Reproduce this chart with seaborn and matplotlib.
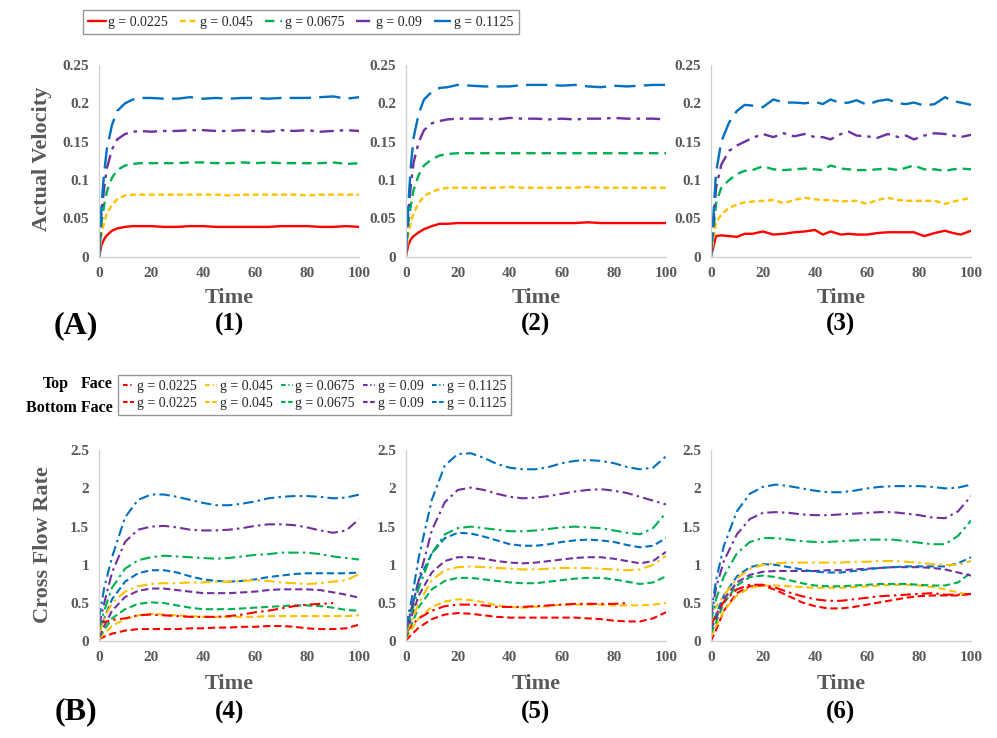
import matplotlib
matplotlib.use("Agg")
import matplotlib.pyplot as plt
import seaborn as sns
import numpy as np
from matplotlib.lines import Line2D
from matplotlib.ticker import MultipleLocator, AutoMinorLocator, FuncFormatter

# ---- data ----
G_LABELS = ['g = 0.0225', 'g = 0.045', 'g = 0.0675', 'g = 0.09', 'g = 0.1125']
COLORS = ['#ff0000', '#ffc000', '#00b050', '#7030a0', '#0070c0']

# (A) actual velocity, panels 1 and 2 share this time grid
T_VEL = [0, 1, 2, 3, 5, 7, 10, 13, 16, 20, 25, 30, 35, 40, 45, 50, 55, 60, 65, 70, 75, 80, 85, 90, 95, 100]

VEL_1 = [
    [0, 0.016, 0.023, 0.028, 0.034, 0.037, 0.039, 0.040, 0.040, 0.040, 0.039, 0.039, 0.040, 0.040, 0.039, 0.039, 0.039, 0.039, 0.039, 0.040, 0.040, 0.040, 0.039, 0.039, 0.040, 0.039],
    [0, 0.030, 0.045, 0.056, 0.068, 0.075, 0.080, 0.081, 0.081, 0.081, 0.081, 0.081, 0.081, 0.081, 0.081, 0.080, 0.081, 0.081, 0.081, 0.081, 0.081, 0.080, 0.081, 0.081, 0.081, 0.081],
    [0, 0.045, 0.068, 0.085, 0.103, 0.113, 0.119, 0.121, 0.122, 0.122, 0.122, 0.122, 0.123, 0.123, 0.122, 0.122, 0.123, 0.122, 0.123, 0.122, 0.122, 0.122, 0.122, 0.123, 0.121, 0.122],
    [0, 0.060, 0.090, 0.115, 0.140, 0.153, 0.160, 0.163, 0.164, 0.163, 0.164, 0.164, 0.165, 0.165, 0.164, 0.164, 0.165, 0.164, 0.163, 0.165, 0.164, 0.165, 0.163, 0.164, 0.165, 0.164],
    [0, 0.070, 0.110, 0.140, 0.172, 0.190, 0.200, 0.205, 0.207, 0.207, 0.206, 0.206, 0.208, 0.206, 0.207, 0.206, 0.207, 0.207, 0.206, 0.207, 0.207, 0.207, 0.208, 0.209, 0.206, 0.208],
]

VEL_2 = [
    [0, 0.016, 0.023, 0.027, 0.032, 0.036, 0.040, 0.043, 0.043, 0.044, 0.044, 0.044, 0.044, 0.044, 0.044, 0.044, 0.044, 0.044, 0.044, 0.045, 0.044, 0.044, 0.044, 0.044, 0.044, 0.044],
    [0, 0.030, 0.046, 0.057, 0.070, 0.079, 0.085, 0.088, 0.090, 0.090, 0.090, 0.090, 0.090, 0.091, 0.090, 0.090, 0.090, 0.090, 0.090, 0.091, 0.090, 0.090, 0.090, 0.090, 0.090, 0.090],
    [0, 0.045, 0.068, 0.087, 0.107, 0.119, 0.127, 0.132, 0.134, 0.135, 0.135, 0.135, 0.135, 0.135, 0.135, 0.135, 0.135, 0.135, 0.135, 0.135, 0.135, 0.135, 0.135, 0.135, 0.135, 0.135],
    [0, 0.060, 0.095, 0.123, 0.150, 0.165, 0.174, 0.177, 0.179, 0.180, 0.180, 0.180, 0.179, 0.181, 0.180, 0.180, 0.179, 0.180, 0.179, 0.180, 0.180, 0.181, 0.180, 0.180, 0.180, 0.179],
    [0, 0.070, 0.120, 0.155, 0.187, 0.205, 0.215, 0.220, 0.221, 0.224, 0.223, 0.222, 0.222, 0.222, 0.224, 0.224, 0.224, 0.223, 0.224, 0.222, 0.221, 0.223, 0.222, 0.223, 0.224, 0.224],
]

# panel 3 is noisier, so it gets a denser grid
T_VEL_3 = [0, 2, 4, 7, 10, 13, 16, 20, 24, 28, 32, 36, 40, 43, 46, 50, 53, 56, 60, 64, 68, 72, 75, 78, 82, 86, 90, 93, 96, 100]

VEL_3 = [
    [0, 0.027, 0.028, 0.027, 0.026, 0.030, 0.030, 0.033, 0.029, 0.030, 0.032, 0.033, 0.035, 0.029, 0.033, 0.029, 0.030, 0.029, 0.029, 0.031, 0.032, 0.032, 0.032, 0.032, 0.027, 0.031, 0.034, 0.031, 0.029, 0.034],
    [0, 0.045, 0.055, 0.064, 0.068, 0.071, 0.072, 0.073, 0.074, 0.070, 0.074, 0.077, 0.075, 0.074, 0.074, 0.072, 0.073, 0.073, 0.069, 0.074, 0.077, 0.074, 0.073, 0.073, 0.073, 0.073, 0.069, 0.072, 0.074, 0.077],
    [0, 0.070, 0.090, 0.100, 0.108, 0.112, 0.113, 0.118, 0.114, 0.113, 0.114, 0.115, 0.114, 0.113, 0.119, 0.115, 0.114, 0.113, 0.113, 0.114, 0.115, 0.113, 0.116, 0.119, 0.114, 0.114, 0.112, 0.114, 0.115, 0.114],
    [0, 0.090, 0.120, 0.138, 0.145, 0.150, 0.155, 0.160, 0.156, 0.161, 0.157, 0.160, 0.156, 0.156, 0.153, 0.160, 0.163, 0.158, 0.157, 0.155, 0.160, 0.156, 0.158, 0.153, 0.158, 0.161, 0.160, 0.158, 0.156, 0.159],
    [0, 0.110, 0.150, 0.175, 0.190, 0.198, 0.197, 0.195, 0.205, 0.201, 0.201, 0.200, 0.202, 0.199, 0.205, 0.200, 0.201, 0.204, 0.198, 0.203, 0.205, 0.200, 0.199, 0.201, 0.197, 0.199, 0.208, 0.203, 0.201, 0.198],
]

# (B) cross flow rate, top face and bottom face
T_FLOW = [0, 2, 5, 10, 15, 20, 25, 30, 35, 40, 45, 50, 55, 60, 65, 70, 75, 80, 85, 90, 95, 100]
nan = np.nan

TOP_4 = [
    [0.25, 0.25, 0.28, 0.30, 0.34, 0.35, 0.34, 0.33, 0.32, 0.32, 0.32, 0.33, 0.35, 0.38, 0.40, 0.43, 0.46, 0.48, 0.49, 0.50, nan, nan],
    [0.10, 0.30, 0.50, 0.65, 0.72, 0.75, 0.76, 0.76, 0.77, 0.77, 0.78, 0.78, 0.79, 0.80, 0.79, 0.77, 0.76, 0.75, 0.76, 0.78, 0.80, 0.88],
    [0.15, 0.40, 0.70, 0.95, 1.06, 1.10, 1.12, 1.11, 1.10, 1.09, 1.08, 1.09, 1.11, 1.13, 1.14, 1.16, 1.16, 1.16, 1.14, 1.11, 1.09, 1.07],
    [0.20, 0.50, 0.90, 1.30, 1.46, 1.50, 1.51, 1.49, 1.46, 1.45, 1.45, 1.46, 1.48, 1.51, 1.53, 1.53, 1.52, 1.49, 1.45, 1.42, 1.45, 1.60],
    [0.30, 0.70, 1.10, 1.62, 1.85, 1.92, 1.92, 1.89, 1.85, 1.81, 1.78, 1.78, 1.80, 1.83, 1.87, 1.89, 1.90, 1.90, 1.89, 1.87, 1.88, 1.92],
]
BOT_4 = [
    [0.03, 0.06, 0.10, 0.14, 0.16, 0.16, 0.16, 0.16, 0.17, 0.17, 0.18, 0.18, 0.19, 0.19, 0.20, 0.20, 0.19, 0.17, 0.16, 0.16, 0.17, 0.22],
    [0.03, 0.10, 0.20, 0.29, 0.34, 0.36, 0.35, 0.34, 0.33, 0.32, 0.32, 0.32, 0.32, 0.32, 0.33, 0.33, 0.33, 0.33, 0.33, 0.33, 0.33, 0.34],
    [0.05, 0.15, 0.30, 0.42, 0.49, 0.51, 0.50, 0.47, 0.44, 0.42, 0.42, 0.42, 0.43, 0.44, 0.45, 0.46, 0.47, 0.47, 0.46, 0.44, 0.41, 0.40],
    [0.05, 0.20, 0.40, 0.58, 0.66, 0.69, 0.69, 0.67, 0.65, 0.63, 0.63, 0.63, 0.64, 0.65, 0.67, 0.68, 0.68, 0.68, 0.67, 0.64, 0.61, 0.57],
    [0.10, 0.30, 0.55, 0.78, 0.89, 0.93, 0.93, 0.90, 0.85, 0.81, 0.79, 0.78, 0.79, 0.81, 0.84, 0.86, 0.88, 0.89, 0.89, 0.89, 0.89, 0.90],
]

TOP_5 = [
    [0.10, 0.20, 0.30, 0.40, 0.46, 0.48, 0.48, 0.47, 0.45, 0.45, 0.45, 0.46, 0.47, 0.48, 0.49, 0.49, 0.49, 0.49, 0.50, nan, nan, nan],
    [0.10, 0.25, 0.50, 0.80, 0.93, 0.97, 0.98, 0.97, 0.96, 0.95, 0.94, 0.94, 0.95, 0.96, 0.96, 0.96, 0.95, 0.94, 0.93, 0.94, 1.00, 1.12],
    [0.10, 0.35, 0.70, 1.15, 1.40, 1.48, 1.50, 1.48, 1.46, 1.44, 1.44, 1.45, 1.47, 1.49, 1.50, 1.49, 1.48, 1.45, 1.42, 1.40, 1.48, 1.68],
    [0.15, 0.40, 0.80, 1.45, 1.82, 1.98, 2.01, 1.98, 1.93, 1.89, 1.87, 1.88, 1.90, 1.93, 1.96, 1.98, 1.99, 1.97, 1.94, 1.89, 1.84, 1.79],
    [0.20, 0.50, 1.10, 1.85, 2.30, 2.45, 2.46, 2.40, 2.32, 2.27, 2.25, 2.25, 2.28, 2.33, 2.36, 2.37, 2.36, 2.33, 2.28, 2.25, 2.27, 2.42],
]
BOT_5 = [
    [0.01, 0.08, 0.18, 0.29, 0.35, 0.37, 0.36, 0.34, 0.32, 0.31, 0.31, 0.31, 0.31, 0.31, 0.31, 0.30, 0.29, 0.27, 0.26, 0.26, 0.30, 0.38],
    [0.03, 0.15, 0.30, 0.45, 0.52, 0.55, 0.54, 0.51, 0.47, 0.45, 0.44, 0.45, 0.46, 0.48, 0.48, 0.48, 0.48, 0.47, 0.47, 0.47, 0.48, 0.50],
    [0.03, 0.20, 0.45, 0.68, 0.79, 0.83, 0.83, 0.81, 0.79, 0.77, 0.76, 0.76, 0.78, 0.80, 0.82, 0.83, 0.83, 0.81, 0.78, 0.75, 0.77, 0.85],
    [0.05, 0.30, 0.60, 0.90, 1.05, 1.10, 1.10, 1.08, 1.05, 1.03, 1.02, 1.03, 1.05, 1.07, 1.09, 1.10, 1.10, 1.08, 1.05, 1.02, 1.05, 1.17],
    [0.10, 0.40, 0.80, 1.15, 1.35, 1.42, 1.41, 1.37, 1.32, 1.27, 1.25, 1.25, 1.27, 1.30, 1.32, 1.33, 1.32, 1.30, 1.26, 1.23, 1.25, 1.35],
]

TOP_6 = [
    [0.20, 0.35, 0.52, 0.68, 0.74, 0.74, 0.70, 0.64, 0.59, 0.55, 0.53, 0.53, 0.55, 0.57, 0.59, 0.60, 0.61, 0.62, 0.63, 0.61, 0.61, 0.62],
    [0.40, 0.45, 0.60, 0.82, 0.95, 1.00, 1.02, 1.03, 1.03, 1.03, 1.03, 1.03, 1.04, 1.04, 1.05, 1.05, 1.04, 1.03, 1.01, 1.00, 1.00, 1.05],
    [0.25, 0.55, 0.85, 1.15, 1.30, 1.35, 1.35, 1.33, 1.31, 1.30, 1.30, 1.31, 1.32, 1.33, 1.33, 1.33, 1.31, 1.29, 1.27, 1.27, 1.38, 1.58],
    [0.30, 0.70, 1.05, 1.40, 1.60, 1.68, 1.69, 1.68, 1.66, 1.65, 1.65, 1.66, 1.67, 1.68, 1.69, 1.69, 1.67, 1.65, 1.62, 1.61, 1.70, 1.90],
    [0.35, 0.80, 1.25, 1.70, 1.93, 2.02, 2.05, 2.03, 2.00, 1.97, 1.95, 1.95, 1.97, 2.00, 2.02, 2.03, 2.03, 2.03, 2.02, 2.00, 2.01, 2.05],
]
BOT_6 = [
    [0.00, 0.15, 0.40, 0.63, 0.72, 0.73, 0.67, 0.59, 0.51, 0.46, 0.43, 0.43, 0.45, 0.48, 0.51, 0.54, 0.57, 0.59, 0.60, 0.60, 0.60, 0.62],
    [0.05, 0.20, 0.40, 0.60, 0.70, 0.73, 0.73, 0.72, 0.71, 0.70, 0.70, 0.70, 0.71, 0.72, 0.73, 0.74, 0.74, 0.73, 0.71, 0.68, 0.64, 0.60],
    [0.10, 0.25, 0.50, 0.73, 0.84, 0.86, 0.84, 0.80, 0.76, 0.73, 0.72, 0.72, 0.73, 0.74, 0.75, 0.75, 0.75, 0.74, 0.73, 0.73, 0.77, 0.90],
    [0.15, 0.30, 0.55, 0.77, 0.87, 0.91, 0.92, 0.92, 0.92, 0.92, 0.93, 0.93, 0.94, 0.95, 0.96, 0.97, 0.97, 0.97, 0.96, 0.94, 0.90, 0.86],
    [0.15, 0.35, 0.60, 0.85, 0.97, 1.01, 1.00, 0.97, 0.94, 0.91, 0.90, 0.90, 0.92, 0.94, 0.96, 0.97, 0.98, 0.98, 0.98, 0.98, 1.02, 1.10],
]

# ---- styling ----
sns.set_style("white")
plt.rcParams['font.family'] = ['Liberation Serif', 'DejaVu Serif']
plt.rcParams['font.weight'] = 'bold'

GRAY = '#595959'
AXIS_GRAY = '#cfcfcf'

VEL_STYLES = ['-', (0, (2.5, 1.5)), (0, (4, 2.5)), (0, (6, 2.5, 1.5, 2.5)), (0, (9, 3.5))]
TOP_STYLE = (0, (5, 2, 1.2, 2))
BOT_STYLE = (0, (3.5, 1.8))
# the legend keys are short, so they get a tighter dash pattern
TOP_KEY = (0, (2.2, 1.3, 0.6, 1.3, 0.6, 1.3))
BOT_KEY = (0, (2.2, 1.2))


def style_axes(ax, ymax, ystep):
    ax.set_xlim(0, 100)
    ax.set_ylim(0, ymax)
    ax.xaxis.set_major_locator(MultipleLocator(20))
    ax.xaxis.set_minor_locator(AutoMinorLocator(5))
    ax.yaxis.set_major_locator(MultipleLocator(ystep))
    ax.yaxis.set_minor_locator(AutoMinorLocator(5))
    ax.yaxis.set_major_formatter(FuncFormatter(lambda v, p: f'{v:g}'))
    for s in ['top', 'right']:
        ax.spines[s].set_visible(False)
    for s in ['left', 'bottom']:
        ax.spines[s].set_color(AXIS_GRAY)
        ax.spines[s].set_linewidth(0.9)
    ax.tick_params(which='major', direction='out', length=4, width=0.8, color=AXIS_GRAY,
                   labelsize=11, labelcolor=GRAY, pad=3)
    ax.tick_params(which='minor', direction='inout', length=4, width=0.7, color=AXIS_GRAY)
    ax.set_xlabel('')
    ax.set_ylabel('')


fig = plt.figure(figsize=(9.97, 7.38), dpi=100)

W = 0.261
LEFTS = [0.0993, 0.407, 0.713]
TOP_ROW = [0.652, 0.260]
BOT_ROW = [0.131, 0.259]

vel_panels = [(T_VEL, VEL_1), (T_VEL, VEL_2), (T_VEL_3, VEL_3)]
flow_panels = [(TOP_4, BOT_4), (TOP_5, BOT_5), (TOP_6, BOT_6)]

top_axes = []
for i, (t, series) in enumerate(vel_panels):
    ax = fig.add_axes([LEFTS[i], TOP_ROW[0], W, TOP_ROW[1]])
    for vals, col, ls in zip(series, COLORS, VEL_STYLES):
        sns.lineplot(x=t, y=vals, ax=ax, color=col, linestyle=ls, linewidth=1.7)
    style_axes(ax, 0.25, 0.05)
    top_axes.append(ax)

bot_axes = []
for i, (top, bot) in enumerate(flow_panels):
    ax = fig.add_axes([LEFTS[i], BOT_ROW[0], W, BOT_ROW[1]])
    for vals, col in zip(bot, COLORS):
        sns.lineplot(x=T_FLOW, y=vals, ax=ax, color=col, linestyle=BOT_STYLE, linewidth=1.5)
    for vals, col in zip(top, COLORS):
        sns.lineplot(x=T_FLOW, y=vals, ax=ax, color=col, linestyle=TOP_STYLE, linewidth=1.5)
    style_axes(ax, 2.5, 0.5)
    bot_axes.append(ax)

# axis titles and panel labels
for i, ax in enumerate(top_axes):
    cx = LEFTS[i] + W / 2
    fig.text(cx, 0.596, 'Time', ha='center', va='center', fontsize=16, color=GRAY)
    fig.text(cx, 0.560, f'({i + 1})', ha='center', va='center', fontsize=18, color='black')
for i, ax in enumerate(bot_axes):
    cx = LEFTS[i] + W / 2
    fig.text(cx, 0.073, 'Time', ha='center', va='center', fontsize=16, color=GRAY)
    fig.text(cx, 0.035, f'({i + 4})', ha='center', va='center', fontsize=18, color='black')

fig.text(0.076, 0.558, '(A)', ha='center', va='center', fontsize=23, color='black')
fig.text(0.076, 0.035, '(B)', ha='center', va='center', fontsize=23, color='black')
fig.text(0.042, 0.785, 'Actual Velocity', rotation=90, ha='center', va='center', fontsize=16, color=GRAY)
fig.text(0.043, 0.262, 'Cross Flow Rate', rotation=90, ha='center', va='center', fontsize=16, color=GRAY)

# legend for (A)
vel_handles = [Line2D([], [], color=c, linestyle=ls, linewidth=1.7) for c, ls in zip(COLORS, VEL_STYLES)]
leg_a = fig.legend(vel_handles, G_LABELS, loc='upper left', bbox_to_anchor=(0.083, 0.986),
                   ncol=5, frameon=True, fancybox=False, edgecolor='#7f7f7f',
                   prop={'weight': 'normal', 'size': 10}, handlelength=1.25,
                   handletextpad=0.2, columnspacing=0.85, borderpad=0.4, borderaxespad=0)
leg_a.get_frame().set_linewidth(1.0)

# legend for (B): row 1 top face, row 2 bottom face
flow_handles, flow_labels = [], []
for c, lab in zip(COLORS, G_LABELS):
    flow_handles.append(Line2D([], [], color=c, linestyle=TOP_KEY, linewidth=1.5))
    flow_labels.append(lab)
    flow_handles.append(Line2D([], [], color=c, linestyle=BOT_KEY, linewidth=1.5))
    flow_labels.append(lab)
leg_b = fig.legend(flow_handles, flow_labels, loc='upper left', bbox_to_anchor=(0.118, 0.492),
                   ncol=5, frameon=True, fancybox=False, edgecolor='#7f7f7f',
                   prop={'weight': 'normal', 'size': 10}, handlelength=0.85,
                   handletextpad=0.2, columnspacing=0.6, borderpad=0.35, labelspacing=0.3,
                   borderaxespad=0)
leg_b.get_frame().set_linewidth(1.0)

fig.text(0.043, 0.479, 'Top', ha='left', va='center', fontsize=11.5, color='black')
fig.text(0.113, 0.479, 'Face', ha='right', va='center', fontsize=11.5, color='black')
fig.text(0.113, 0.447, 'Bottom Face', ha='right', va='center', fontsize=11.5, color='black')

fig.savefig('out.png', dpi=100)
